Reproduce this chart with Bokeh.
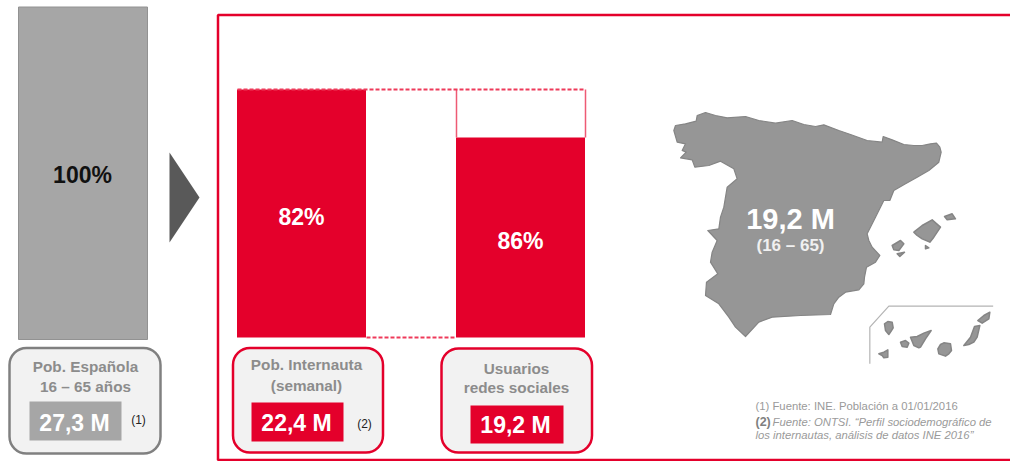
import numpy as np
from bokeh.plotting import figure
from bokeh.models import Range1d
from bokeh.core.properties import value
from bokeh.embed import file_html
from bokeh.resources import INLINE

RED = "#e4002b"
GREY = "#a6a6a6"
FONT = value("Liberation Sans")

# ---- data ----
total_label = "100%"
total_value = [100]
net_labels = ["82%", "86%"]
net_heights = [100, 80.6]        # drawn heights
net_full = [100, 100]
people = ["27,3 M", "22,4 M", "19,2 M"]
box_titles = [["Pob. Española", "16 – 65 años"], ["Pob. Internauta", "(semanal)"], ["Usuarios", "redes sociales"]]

# map outlines (3x units of the crop origin)
spain_x = [70,75,105,137,140,165,195,230,285,325,375,425,460,495,520,565,600,650,695,698,725,760,790,815,840,858,868,872,865,835,800,765,730,718,700,675,650,655,665,688,675,648,642,640,625,585,565,550,540,450,365,325,285,255,235,205,165,168,202,180,185,200,172,205,210,220,230,260,250,210,175,133,125,90,107,95,105,80,70]
spain_y = [120,105,100,92,75,66,75,82,78,90,98,90,102,108,103,120,132,150,155,138,148,162,165,165,160,158,170,185,215,240,260,280,300,330,330,380,430,450,470,495,515,530,560,580,598,605,620,640,672,675,680,695,738,710,680,640,615,575,550,515,485,450,420,415,380,350,290,265,235,212,225,230,208,202,185,180,160,155,120]
islands = [
    ([790,815,845,870,850,838,815,800], [425,405,388,410,440,455,445,435]),
    ([882,905,915,890], [378,370,385,388]),
    ([725,750,760,745,730], [465,450,460,480,478]),
    ([740,762,748], [490,485,498]),
    ([825,835,825], [465,472,475]),
    ([702,712,725,728,722,715,705], [700,693,695,712,722,732,720]),
    ([750,765,775,770,755], [755,750,758,770,768]),
    ([780,800,820,842,825,810,805,790], [740,738,728,720,745,770,772,765]),
    ([862,870,880,900,903,895,885,865], [775,762,757,760,780,790,797,790]),
    ([685,700,712,712,700,695], [790,785,778,800,802,795]),
    ([940,960,972,988,980,970,955], [765,740,708,705,740,755,762]),
    ([982,1000,1018,1015,995], [690,675,665,685,698]),
]
canary_x = [658,658,715,1028]
canary_y = [820,710,647,647]

def mx(v): return [650 + a / 3 for a in v]
def my(v): return [90 + a / 3 for a in v]

p = figure(width=1010, height=461, output_backend="svg", toolbar_location=None,
           x_range=Range1d(0, 1010), y_range=Range1d(461, 0),
           min_border=0, outline_line_color=None)
p.axis.visible = False
p.grid.visible = False
p.extra_y_ranges = {
    "left": Range1d((339 - 461) / 3.325, 339 / 3.325),
    "net": Range1d((337 - 461) / 2.48, 337 / 2.48),
}

# left column
p.vbar(x=[82.5], width=129, bottom=0, top=total_value, y_range_name="left",
       fill_color=GREY, line_color="#929292", line_width=1)
p.patch([169, 199, 169], [152, 197, 242], fill_color="#595959", line_color=None)

# red frame
p.line([1010, 217.5, 217.5, 1010], [14.5, 14.5, 459.5, 459.5], line_color=RED, line_width=2.5)

# panel bars
p.vbar(x=[301, 520], width=129, bottom=0, top=net_heights, y_range_name="net",
       fill_color=RED, line_color=None)
p.segment(x0=[456, 585], x1=[456, 585], y0=net_heights[1], y1=net_full[1], y_range_name="net",
          line_color="#ee5a74", line_width=1.5)

def dashes(x_start, x_end, level):
    x0 = np.arange(x_start, x_end, 6)
    p.segment(x0=x0, x1=x0 + 4, y0=[level] * len(x0), y1=[level] * len(x0), y_range_name="net",
              line_color="#ee3a5a", line_width=2)

dashes(237, 585, net_full[0])
dashes(366, 456, 0)

# rounded boxes
p.quad(left=[9], right=[160], top=[347.5], bottom=[453], fill_color="#f2f2f2", line_color="#808080",
       line_width=2.5, border_radius=17)
p.quad(left=[232.5, 441], right=[382.5, 591.5], top=[347.5, 348], bottom=[452, 452], fill_color="#f2f2f2",
       line_color=RED, line_width=2.5, border_radius=17)
p.quad(left=[29], right=[121], top=[401], bottom=[440], fill_color=GREY, line_color=None)
p.quad(left=[251, 470], right=[343, 563], top=[402, 405], bottom=[441, 443], fill_color=RED, line_color=None)

def txt(x, y, s, size, color, style="bold", align="center"):
    p.text(x=[x], y=[y], text=[s], text_font=FONT, text_font_size=f"{size}px", text_color=color,
           text_font_style=style, text_align=align, text_baseline="middle")

txt(82, 174, total_label, 23, "#111111")
txt(301, 216, net_labels[0], 23, "white")
txt(520, 240, net_labels[1], 23, "white")

txt(85, 366, box_titles[0][0], 15.3, "#8c8c8c")
txt(85, 386, box_titles[0][1], 15.3, "#8c8c8c")
txt(306, 364, box_titles[1][0], 15.3, "#8c8c8c")
txt(306, 385, box_titles[1][1], 15.3, "#8c8c8c")
txt(516, 368, box_titles[2][0], 15.3, "#8c8c8c")
txt(516, 387, box_titles[2][1], 15.3, "#8c8c8c")

txt(74, 422, people[0], 23, "white")
txt(296, 422, people[1], 23, "white")
txt(515, 424, people[2], 23, "white")
txt(138, 419, "(1)", 12, "#222222", "normal")
txt(364, 423, "(2)", 12, "#222222", "normal")

# map
p.patch(mx(spain_x), my(spain_y), fill_color="#969696", line_color="#858585", line_width=1.2, line_join="round")
p.patches([mx(a) for a, _ in islands], [my(b) for _, b in islands], fill_color="#969696", line_color="#858585",
          line_width=1.5, line_join="round")
p.line(mx(canary_x), my(canary_y), line_color="#b4b4b4", line_width=1.2)
txt(790, 218, "19,2 M", 29, "white")
txt(790, 245, "(16 – 65)", 17, "#f0f0f0")

# notes
txt(755, 405, "(1) Fuente: INE. Población a 01/01/2016", 11.3, "#9a9a9a", "normal", "left")
txt(755, 421, "(2)", 12.5, "#808080", "bold", "left")
txt(772, 421, "Fuente: ONTSI. “Perfil sociodemográfico de", 11.3, "#9a9a9a", "italic", "left")
txt(755, 434, "los internautas, análisis de datos INE 2016”", 11.3, "#9a9a9a", "italic", "left")

open("out.html", "w").write(file_html(p, INLINE))
